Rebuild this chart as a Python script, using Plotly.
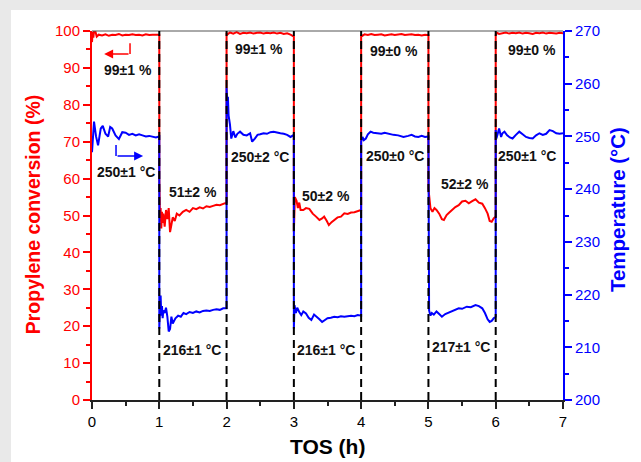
import plotly.graph_objects as go

# ---------------- data ----------------
# Propylene conversion (%) per step
conv_t0 = [0.0, 0.01, 0.02, 0.03, 0.05, 0.07, 0.1, 0.15, 0.2, 0.25, 0.3, 0.35, 0.4, 0.45, 0.5, 0.55, 0.6, 0.65, 0.7, 0.75, 0.8, 0.85, 0.9, 0.95, 1.0]
conv_v0 = [97.0, 99.8, 98.2, 100.0, 99.9, 98.5, 99.0, 98.8, 99.1, 98.7, 99.0, 98.9, 99.2, 98.8, 99.0, 98.9, 99.1, 98.9, 99.0, 98.8, 99.1, 98.9, 99.0, 98.9, 99.0]
conv_t1 = [1.0, 1.01, 1.02, 1.03, 1.04, 1.05, 1.06, 1.08, 1.1, 1.12, 1.14, 1.16, 1.18, 1.2, 1.23, 1.26, 1.3, 1.35, 1.4, 1.45, 1.5, 1.55, 1.6, 1.65, 1.7, 1.75, 1.8, 1.85, 1.9, 1.95, 2.0]
conv_v1 = [60.0, 50.0, 52.0, 46.5, 51.0, 48.0, 50.5, 47.0, 51.5, 49.0, 52.0, 45.5, 47.5, 49.5, 48.5, 50.5, 50.0, 51.0, 51.5, 51.0, 52.0, 51.7, 52.2, 51.9, 52.5, 52.3, 52.6, 52.9, 52.8, 53.2, 53.5]
conv_t2 = [2.0, 2.01, 2.05, 2.1, 2.15, 2.2, 2.25, 2.3, 2.35, 2.4, 2.45, 2.5, 2.55, 2.6, 2.65, 2.7, 2.75, 2.8, 2.85, 2.9, 2.95, 2.98, 3.0]
conv_v2 = [99.5, 99.0, 99.6, 99.3, 99.7, 99.2, 99.5, 99.4, 99.6, 99.3, 99.5, 99.6, 99.3, 99.5, 99.4, 99.6, 99.3, 99.5, 99.2, 99.4, 99.0, 98.6, 98.5]
conv_t3 = [3.0, 3.015, 3.04, 3.06, 3.08, 3.1, 3.14, 3.18, 3.23, 3.28, 3.33, 3.38, 3.42, 3.45, 3.49, 3.52, 3.56, 3.6, 3.65, 3.7, 3.75, 3.8, 3.85, 3.9, 3.95, 4.0]
conv_v3 = [45.5, 55.0, 54.0, 52.0, 53.5, 51.5, 51.5, 52.0, 51.8, 50.5, 49.7, 48.8, 49.2, 49.7, 48.5, 47.4, 48.2, 48.8, 49.5, 49.7, 50.6, 50.4, 50.8, 50.9, 51.2, 51.5]
conv_t4 = [4.0, 4.02, 4.05, 4.1, 4.15, 4.2, 4.25, 4.3, 4.35, 4.4, 4.45, 4.5, 4.55, 4.6, 4.65, 4.7, 4.75, 4.8, 4.85, 4.9, 4.95, 5.0]
conv_v4 = [99.0, 98.7, 99.1, 98.9, 99.2, 98.9, 99.0, 99.1, 98.8, 99.0, 99.1, 98.9, 99.0, 99.2, 98.9, 99.0, 99.1, 98.9, 99.0, 98.8, 99.0, 98.9]
conv_t5 = [5.0, 5.03, 5.06, 5.09, 5.12, 5.16, 5.2, 5.23, 5.27, 5.31, 5.35, 5.4, 5.45, 5.5, 5.55, 5.6, 5.65, 5.7, 5.75, 5.8, 5.84, 5.88, 5.91, 5.94, 5.97, 6.0]
conv_v5 = [57.3, 52.0, 51.0, 52.0, 51.5, 50.5, 49.0, 48.8, 50.1, 50.8, 51.5, 52.3, 52.8, 53.8, 54.0, 53.3, 53.9, 54.4, 53.5, 53.2, 52.0, 50.5, 48.5, 48.3, 49.2, 49.7]
conv_t6 = [6.0, 6.02, 6.05, 6.1, 6.15, 6.2, 6.25, 6.3, 6.35, 6.4, 6.45, 6.5, 6.55, 6.6, 6.65, 6.7, 6.75, 6.8, 6.85, 6.9, 6.95, 7.0]
conv_v6 = [98.9, 99.5, 99.2, 99.4, 99.6, 99.3, 99.5, 99.4, 99.6, 99.3, 99.5, 99.4, 99.2, 99.5, 99.4, 99.6, 99.3, 99.5, 99.4, 99.3, 99.5, 99.4]

# Temperature (°C) per step
temp_t0 = [0.0, 0.03, 0.06, 0.09, 0.13, 0.16, 0.2, 0.24, 0.27, 0.3, 0.35, 0.4, 0.45, 0.5, 0.55, 0.6, 0.65, 0.7, 0.75, 0.8, 0.85, 0.9, 0.95, 1.0]
temp_v0 = [247.0, 252.8, 250.0, 248.3, 251.5, 252.0, 250.5, 250.0, 251.8, 251.5, 250.2, 249.5, 250.8, 250.7, 250.3, 250.5, 250.2, 250.4, 250.2, 250.0, 250.1, 249.9, 249.8, 250.0]
temp_t1 = [1.0, 1.005, 1.01, 1.02, 1.03, 1.04, 1.05, 1.06, 1.08, 1.1, 1.12, 1.14, 1.16, 1.18, 1.2, 1.24, 1.28, 1.32, 1.36, 1.4, 1.45, 1.5, 1.55, 1.6, 1.65, 1.7, 1.75, 1.8, 1.85, 1.9, 1.95, 2.0]
temp_v1 = [213.5, 221.5, 217.5, 219.8, 216.0, 217.8, 215.5, 217.0, 216.5, 217.5, 215.8, 213.0, 213.5, 215.8, 214.5, 215.5, 216.0, 215.8, 216.5, 216.3, 216.7, 216.5, 216.8, 216.6, 216.9, 217.0, 216.9, 217.1, 217.2, 217.1, 217.4, 217.4]
temp_t2 = [2.0, 2.01, 2.02, 2.03, 2.05, 2.07, 2.1, 2.13, 2.16, 2.2, 2.25, 2.3, 2.35, 2.38, 2.42, 2.46, 2.5, 2.55, 2.6, 2.65, 2.7, 2.75, 2.8, 2.85, 2.9, 2.95, 3.0]
temp_v2 = [259.2, 256.0, 257.5, 254.0, 252.3, 249.6, 251.0, 249.8, 250.5, 250.9, 250.3, 250.2, 250.6, 249.0, 249.6, 250.3, 250.4, 250.6, 250.5, 250.8, 250.9, 250.7, 250.6, 250.5, 250.3, 249.9, 250.3]
temp_t3 = [3.0, 3.01, 3.03, 3.05, 3.08, 3.11, 3.14, 3.18, 3.22, 3.26, 3.3, 3.34, 3.38, 3.42, 3.46, 3.5, 3.55, 3.6, 3.65, 3.7, 3.75, 3.8, 3.85, 3.9, 3.95, 4.0]
temp_v3 = [213.5, 218.0, 216.5, 217.5, 216.7, 216.1, 216.8, 216.4, 215.6, 215.2, 216.2, 215.8, 215.3, 214.8, 215.2, 215.5, 215.6, 215.8, 215.7, 215.9, 215.8, 215.9, 216.0, 215.9, 216.1, 216.0]
temp_t4 = [4.0, 4.02, 4.04, 4.07, 4.1, 4.14, 4.18, 4.24, 4.3, 4.35, 4.4, 4.48, 4.55, 4.63, 4.7, 4.75, 4.8, 4.85, 4.9, 4.95, 5.0]
temp_v4 = [249.0, 249.9, 249.3, 249.6, 250.4, 250.9, 250.7, 250.6, 250.5, 250.7, 250.5, 250.3, 250.2, 249.9, 250.1, 250.3, 250.0, 249.9, 250.1, 249.9, 250.0]
temp_t5 = [5.0, 5.01, 5.03, 5.05, 5.08, 5.12, 5.16, 5.2, 5.25, 5.32, 5.38, 5.45, 5.5, 5.57, 5.63, 5.7, 5.75, 5.8, 5.84, 5.88, 5.91, 5.94, 5.97, 6.0]
temp_v5 = [218.8, 217.0, 216.0, 216.5, 216.2, 216.8, 216.3, 215.8, 216.3, 216.7, 217.0, 217.4, 217.3, 217.7, 217.6, 218.0, 217.8, 217.4, 216.5, 215.3, 214.8, 215.0, 215.5, 215.8]
temp_t6 = [6.0, 6.01, 6.03, 6.05, 6.08, 6.1, 6.13, 6.17, 6.21, 6.25, 6.3, 6.35, 6.4, 6.45, 6.5, 6.55, 6.6, 6.65, 6.7, 6.75, 6.8, 6.85, 6.9, 6.95, 7.0]
temp_v6 = [251.2, 249.6, 250.5, 251.5, 249.9, 250.6, 250.9, 250.2, 249.8, 249.6, 250.3, 250.9, 250.4, 249.9, 249.7, 249.6, 250.2, 250.6, 250.3, 250.5, 251.2, 251.0, 250.6, 250.5, 250.6]

switch_times = [1, 2, 3, 4, 5, 6]

# Labels: (x, y on conversion axis, text)
conv_labels = [(0.54, 89.5, "99±1 %"), (1.5, 56.3, "51±2 %"), (2.48, 95.0, "99±1 %"),
               (3.48, 55.2, "50±2 %"), (4.49, 94.6, "99±0 %"), (5.54, 58.6, "52±2 %"),
               (6.54, 94.8, "99±0 %")]
temp_labels = [(0.5, 61.8, "250±1 °C"), (1.49, 13.5, "216±1 °C"), (2.5, 65.9, "250±2 °C"),
               (3.48, 13.5, "216±1 °C"), (4.5, 66.0, "250±0 °C"), (5.48, 14.3, "217±1 °C"),
               (6.46, 66.0, "250±1 °C")]

conv_t = conv_t0 + conv_t1 + conv_t2 + conv_t3 + conv_t4 + conv_t5 + conv_t6
conv_v = conv_v0 + conv_v1 + conv_v2 + conv_v3 + conv_v4 + conv_v5 + conv_v6
temp_t = temp_t0 + temp_t1 + temp_t2 + temp_t3 + temp_t4 + temp_t5 + temp_t6
temp_v = temp_v0 + temp_v1 + temp_v2 + temp_v3 + temp_v4 + temp_v5 + temp_v6

RED = "#ff0000"
BLUE = "#0000ff"
FONT = "Liberation Sans, Arial, sans-serif"

fig = go.Figure()
fig.add_trace(go.Scatter(x=conv_t, y=conv_v, mode="lines", line=dict(color=RED, width=2),
                         showlegend=False, yaxis="y"))
fig.add_trace(go.Scatter(x=temp_t, y=temp_v, mode="lines", line=dict(color=BLUE, width=2),
                         showlegend=False, yaxis="y2"))

shapes = []
# background frame (grey edge, white card)
shapes.append(dict(type="rect", xref="paper", yref="paper", x0=-0.172, x1=1.2, y0=-0.2, y1=1.057,
                   fillcolor="white", line=dict(width=0), layer="below"))
# top border line
shapes.append(dict(type="line", xref="paper", yref="paper", x0=0, x1=1, y0=1, y1=1,
                   line=dict(color="#555555", width=1)))
for s in switch_times:
    shapes.append(dict(type="line", xref="x", yref="y", x0=s, x1=s, y0=0, y1=100,
                       line=dict(color="black", width=2, dash="8px,5px")))
# bent arrows (vertical parts)
shapes.append(dict(type="line", xref="x", yref="y", x0=0.565, x1=0.565, y0=96.7, y1=93.8,
                   line=dict(color=RED, width=1.5)))
shapes.append(dict(type="line", xref="x", yref="y", x0=0.357, x1=0.357, y0=69.1, y1=66.1,
                   line=dict(color=BLUE, width=1.5)))

annotations = []
for x, y, t in conv_labels + temp_labels:
    annotations.append(dict(x=x, y=y, xref="x", yref="y", text="<b>%s</b>" % t, showarrow=False,
                            xanchor="center", yanchor="middle",
                            font=dict(size=14, color="#111111", family=FONT)))
annotations.append(dict(x=0.18, y=93.8, xref="x", yref="y", ax=0.565, ay=93.8, axref="x", ayref="y",
                        text="", showarrow=True, arrowhead=2, arrowsize=1.2, arrowwidth=1.5, arrowcolor=RED))
annotations.append(dict(x=0.76, y=66.1, xref="x", yref="y", ax=0.357, ay=66.1, axref="x", ayref="y",
                        text="", showarrow=True, arrowhead=2, arrowsize=1.2, arrowwidth=1.5, arrowcolor=BLUE))
# axis titles
annotations.append(dict(x=-0.125, y=0.501, xref="paper", yref="paper", text="<b>Propylene conversion (%)</b>",
                        textangle=-90, showarrow=False, xanchor="center", yanchor="middle",
                        font=dict(size=19.5, color=RED, family=FONT)))
annotations.append(dict(x=1.117, y=0.515, xref="paper", yref="paper", text="<b>Temperature (°C)</b>",
                        textangle=-90, showarrow=False, xanchor="center", yanchor="middle",
                        font=dict(size=20.5, color=BLUE, family=FONT)))
annotations.append(dict(x=0.50, y=-0.127, xref="paper", yref="paper", text="<b>TOS (h)</b>",
                        showarrow=False, xanchor="center", yanchor="middle",
                        font=dict(size=21, color="black", family=FONT)))

fig.update_layout(
    width=641, height=462,
    margin=dict(l=92, r=78, t=31, b=62),
    paper_bgcolor="#e9e9e9",
    plot_bgcolor="rgba(0,0,0,0)",
    font=dict(family=FONT),
    shapes=shapes,
    annotations=annotations,
    xaxis=dict(range=[0, 7], dtick=1, tick0=0, showgrid=False, zeroline=False,
               showline=True, linecolor="#222222", linewidth=2,
               ticks="outside", ticklen=7, tickwidth=1.5, tickcolor="#222222",
               minor=dict(dtick=0.5, ticks="outside", ticklen=4, tickwidth=1.5, tickcolor="#222222"),
               tickfont=dict(size=15, color="black", family=FONT)),
    yaxis=dict(range=[0, 100], dtick=10, tick0=0, showgrid=False, zeroline=False,
               showline=True, linecolor=RED, linewidth=2,
               ticks="outside", ticklen=7, tickwidth=1.5, tickcolor=RED,
               minor=dict(dtick=5, ticks="outside", ticklen=4, tickwidth=1.5, tickcolor=RED),
               tickfont=dict(size=15, color=RED, family=FONT)),
    yaxis2=dict(range=[200, 270], dtick=10, tick0=200, overlaying="y", side="right",
                showgrid=False, zeroline=False,
                showline=True, linecolor=BLUE, linewidth=2,
                ticks="outside", ticklen=7, tickwidth=1.5, tickcolor=BLUE,
                minor=dict(dtick=5, ticks="outside", ticklen=4, tickwidth=1.5, tickcolor=BLUE),
                tickfont=dict(size=15, color=BLUE, family=FONT)),
)

fig.write_html("out.html", config={"displayModeBar": False},
               post_script="document.body.style.margin='0';")
